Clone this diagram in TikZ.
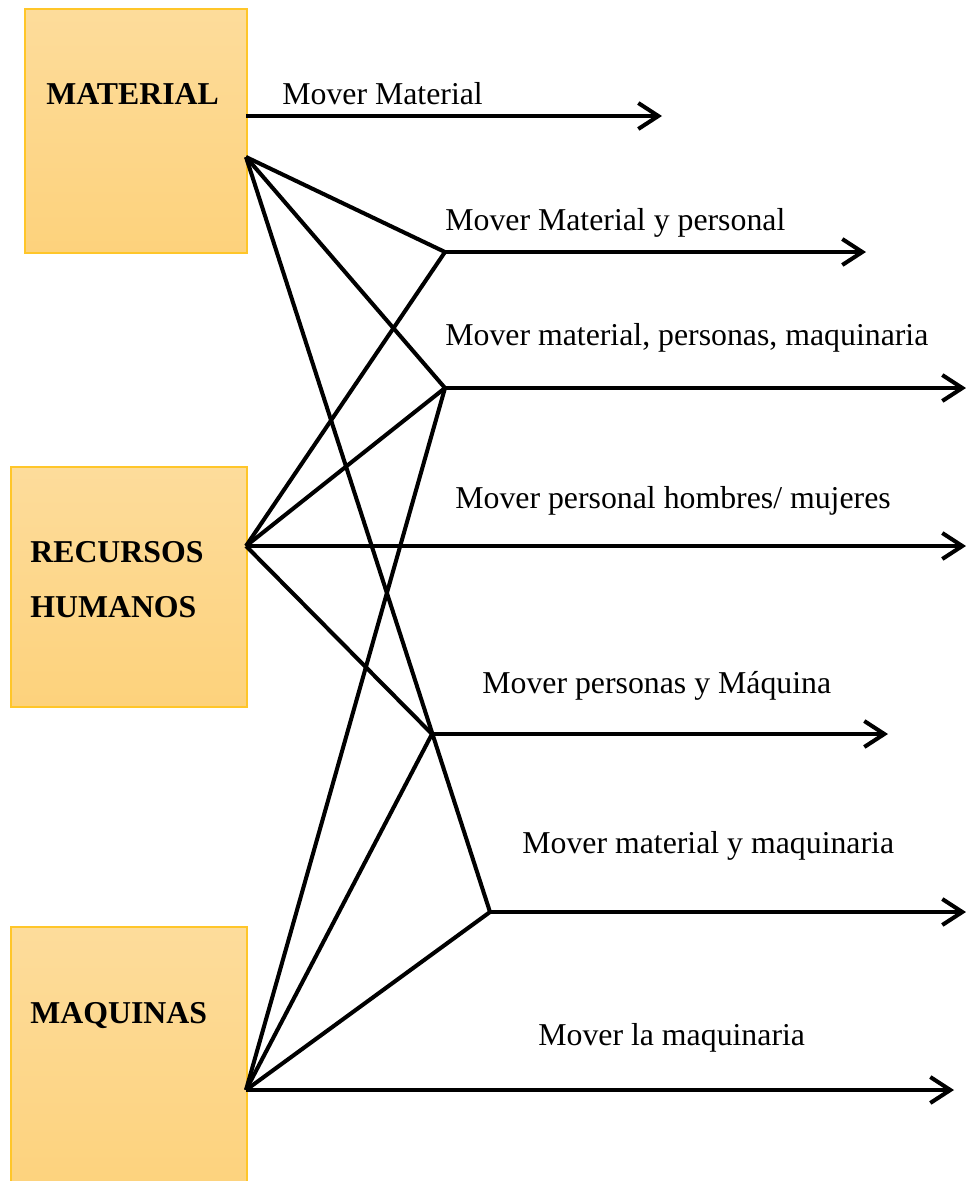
\documentclass[tikz,border=0pt]{standalone}
\usepackage{fontspec}
\setmainfont{Liberation Serif}
\usetikzlibrary{arrows.meta, positioning}
\definecolor{boxTop}{HTML}{FDDC9B}
\definecolor{boxBot}{HTML}{FDD27C}
\definecolor{boxLine}{HTML}{FFC629}
\tikzset{
    boxY/.style={draw=boxLine, line width=0.9pt, top color=boxTop, bottom color=boxBot,
        anchor=north west, inner sep=0pt},
    lineK/.style={line width=2.3pt},
    arrowK/.style={lineK, -{Straight Barb[length=4mm, width=5.2mm]}}
}
\begin{document}
\begin{tikzpicture}[x=0.02cm, y=-0.02cm]
    \tikzstyle{every node}=[inner sep=0pt, font=\fontsize{18.1}{21}\selectfont];
    \useasboundingbox (0,0) rectangle (966,1181);
    % cajas
    \node[boxY, minimum width=4.44cm, minimum height=4.88cm] (mat) at (24,8) {};
    \node[boxY, minimum width=4.72cm, minimum height=4.80cm] (rh) at (10,466) {};
    \node[boxY, minimum width=4.72cm, minimum height=5.40cm] (maq) at (10,926) {};
    \node[anchor=base west, font=\fontsize{18.1}{21}\selectfont\bfseries] (tMat) at (46,104) {MATERIAL};
    \node[anchor=base west, font=\fontsize{18.1}{21}\selectfont\bfseries] (tRh1) at (30,562) {RECURSOS};
    \node[anchor=base west, font=\fontsize{18.1}{21}\selectfont\bfseries] (tRh2) at (30,617) {HUMANOS};
    \node[anchor=base west, font=\fontsize{18.1}{21}\selectfont\bfseries] (tMaq) at (30,1023) {MAQUINAS};
    % puntos
    \coordinate (m0) at (246,116);
    \coordinate (m1) at (246,157);
    \coordinate (r1) at (246,546);
    \coordinate (q1) at (246,1090);
    \coordinate (j1) at (445,252);
    \coordinate (j2) at (445,388);
    \coordinate (j3) at (432,734);
    \coordinate (j4) at (490,912);
    \coordinate (e0) at (662,116);
    \coordinate (e1) at (866,252);
    \coordinate (e2) at (966,388);
    \coordinate (e3) at (966,546);
    \coordinate (e4) at (888,734);
    \coordinate (e5) at (966,912);
    \coordinate (e6) at (954,1090);
    % lineas
    \draw[lineK] (m1) -- (j1);
    \draw[lineK] (m1) -- (j2);
    \draw[lineK] (m1) -- (j4);
    \draw[lineK] (r1) -- (j1);
    \draw[lineK] (r1) -- (j2);
    \draw[lineK] (r1) -- (j3);
    \draw[lineK] (q1) -- (j2);
    \draw[lineK] (q1) -- (j3);
    \draw[lineK] (q1) -- (j4);
    % flechas
    \draw[arrowK] (m0) -- (e0);
    \draw[arrowK] (j1) -- (e1);
    \draw[arrowK] (j2) -- (e2);
    \draw[arrowK] (r1) -- (e3);
    \draw[arrowK] (j3) -- (e4);
    \draw[arrowK] (j4) -- (e5);
    \draw[arrowK] (q1) -- (e6);
    % etiquetas
    \node[anchor=base west] (l0) at (282,104) {Mover Material};
    \node[anchor=base west] (l1) at (445,230) {Mover Material y personal};
    \node[anchor=base west] (l2) at (445,345) {Mover material, personas, maquinaria};
    \node[anchor=base west] (l3) at (455,508) {Mover personal hombres/ mujeres};
    \node[anchor=base west] (l4) at (482,693) {Mover personas y Máquina};
    \node[anchor=base west] (l5) at (522,853) {Mover material y maquinaria};
    \node[anchor=base west] (l6) at (538,1045) {Mover la maquinaria};
\end{tikzpicture}
\end{document}
